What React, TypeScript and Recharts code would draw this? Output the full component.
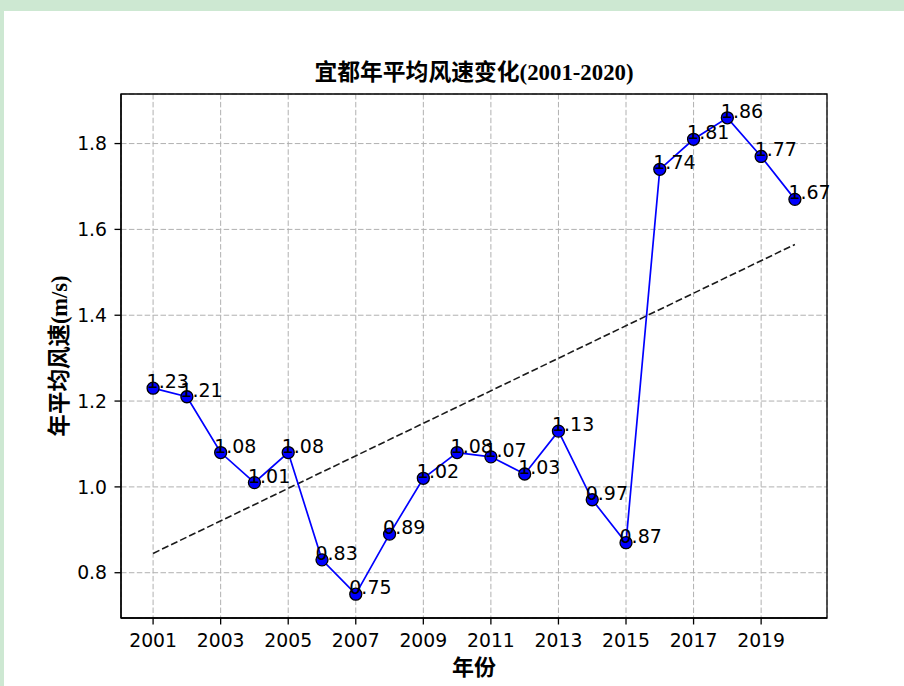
import React from 'react';
import { LineChart, Line, XAxis, YAxis, CartesianGrid, LabelList, ReferenceArea } from 'recharts';

const years = [2001, 2002, 2003, 2004, 2005, 2006, 2007, 2008, 2009, 2010, 2011, 2012, 2013, 2014, 2015, 2016, 2017, 2018, 2019, 2020];
const windSpeed = [1.23, 1.21, 1.08, 1.01, 1.08, 0.83, 0.75, 0.89, 1.02, 1.08, 1.07, 1.03, 1.13, 0.97, 0.87, 1.74, 1.81, 1.86, 1.77, 1.67];
const trendYears = [2001, 2020];
const trendValues = [0.845, 1.565];
const xTicks = [2001, 2003, 2005, 2007, 2009, 2011, 2013, 2015, 2017, 2019];
const yTicks = [0.8, 1.0, 1.2, 1.4, 1.6, 1.8];
const xDomain = [2000.05, 2020.95];
const yDomain = [0.6945, 1.9155];

const title = '宜都年平均风速变化(2001-2020)';
const xLabel = '年份';
const yLabel = '年平均风速(m/s)';

const data = years.map((y, i) => ({ year: y, speed: windSpeed[i] }));
const trendData = trendYears.map((y, i) => ({ year: y, trend: trendValues[i] }));

const tickFont = { fontFamily: 'DejaVu Sans', fontSize: 18.8, fill: '#000' };
const labelFont = "'Liberation Serif', 'Noto Sans CJK SC', serif";

const renderLabel = (props: any) => {
  const { x, y, value } = props;
  return (
    <text x={x - 6.5} y={y} fontFamily="DejaVu Sans" fontSize={19} fill="#000">
      {Number(value).toFixed(2)}
    </text>
  );
};

export default function App() {
  return (
    <div style={{ position: 'absolute', left: 0, top: 0, width: 904, height: 686, background: '#cde8d2', overflow: 'hidden' }}>
      <div style={{ position: 'absolute', left: 4, top: 11, width: 900, height: 675, background: '#ffffff' }} />
      <div style={{ position: 'absolute', left: 0, top: 0 }}>
        <LineChart width={904} height={686} data={data} margin={{ top: 94, right: 77, bottom: 38, left: 71 }}>
          <CartesianGrid stroke="#b0b0b0" strokeWidth={1} strokeDasharray="5.5 2.4" />
          <XAxis
            dataKey="year"
            type="number"
            domain={xDomain}
            allowDataOverflow
            ticks={xTicks}
            interval={0}
            height={30}
            tickSize={6.5}
            tickMargin={9.5}
            tick={tickFont}
            axisLine={{ stroke: '#000', strokeWidth: 1.3 }}
            tickLine={{ stroke: '#000', strokeWidth: 1.3 }}
          />
          <YAxis
            type="number"
            domain={yDomain}
            allowDataOverflow
            ticks={yTicks}
            interval={0}
            width={50}
            tickSize={6.5}
            tickMargin={7.5}
            tick={tickFont}
            tickFormatter={(v: number) => v.toFixed(1)}
            axisLine={{ stroke: '#000', strokeWidth: 1.3 }}
            tickLine={{ stroke: '#000', strokeWidth: 1.3 }}
          />
          <ReferenceArea x1={xDomain[0]} x2={xDomain[1]} y1={yDomain[0]} y2={yDomain[1]} fill="none" stroke="#000" strokeWidth={1.3} ifOverflow="visible" />
          <Line
            data={trendData}
            dataKey="trend"
            type="linear"
            stroke="#1a1a1a"
            strokeWidth={1.6}
            strokeDasharray="7 3"
            dot={false}
            activeDot={false}
            isAnimationActive={false}
          />
          <Line
            dataKey="speed"
            type="linear"
            stroke="#0000ff"
            strokeWidth={1.7}
            dot={{ r: 6, fill: '#0000ff', stroke: '#000', strokeWidth: 1.3 }}
            activeDot={false}
            isAnimationActive={false}
          >
            <LabelList dataKey="speed" content={renderLabel} />
          </Line>
        </LineChart>
      </div>
      <div style={{ position: 'absolute', left: 121, width: 706, top: 61, textAlign: 'center', fontFamily: labelFont, fontWeight: 'bold', fontSize: 22.8, lineHeight: '24px', color: '#000', whiteSpace: 'nowrap' }}>
        {title}
      </div>
      <div style={{ position: 'absolute', left: 121, width: 706, top: 656, textAlign: 'center', fontFamily: labelFont, fontWeight: 'bold', fontSize: 22, lineHeight: '24px', color: '#000', whiteSpace: 'nowrap' }}>
        {xLabel}
      </div>
      <div style={{ position: 'absolute', left: 60, top: 356, transform: 'translate(-50%, -50%) rotate(-90deg)', fontFamily: labelFont, fontWeight: 'bold', fontSize: 22.5, lineHeight: '24px', color: '#000', whiteSpace: 'nowrap' }}>
        {yLabel}
      </div>
    </div>
  );
}
